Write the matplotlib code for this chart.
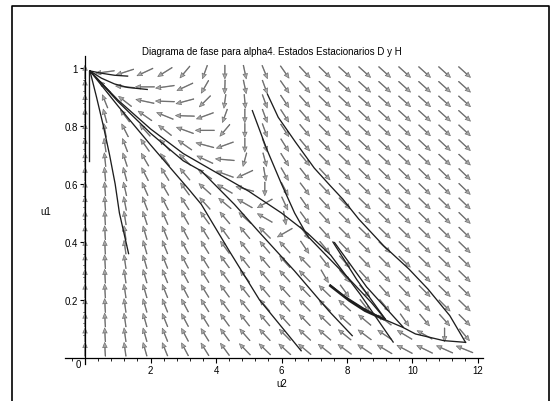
import numpy as np
import matplotlib
matplotlib.use("Agg")
import matplotlib.pyplot as plt
from matplotlib.lines import Line2D

plt.rcParams['font.family'] = ['Liberation Sans', 'DejaVu Sans']

TITLE = "Diagrama de fase para alpha4. Estados Estacionarios D y H"
X_LABEL = "u2"
Y_LABEL = "u1"

# ---- direction field: grid of arrow centres and their on-screen headings (deg) ----
u2_cols = [0.0, 0.61, 1.22, 1.83, 2.44, 3.05, 3.66, 4.27, 4.88, 5.49,
           6.10, 6.71, 7.32, 7.93, 8.54, 9.15, 9.76, 10.37, 10.98, 11.59]
u1_rows = [0.030, 0.080, 0.131, 0.181, 0.231, 0.282, 0.332, 0.382, 0.432, 0.483,
           0.533, 0.583, 0.634, 0.684, 0.734, 0.785, 0.835, 0.885, 0.935, 0.986]

# one list per row, bottom row first; one heading per column
field_heading = [
    [90, 93, 98, 106, 112, 118, 122, 126, 134, 136, 138, 140, 142, 144, 146, 149, 152, 154, 156, 158],
    [90, 93, 98, 106, 112, 118, 122, 126, 131, 133, 135, 137, 139, 141, 143, 146, 149, 151, 270, 310],
    [90, 93, 98, 106, 112, 118, 122, 126, 128, 130, 132, 134, 136, 138, 140, 143, 305, 310, 312, 315],
    [90, 93, 98, 106, 112, 118, 122, 126, 128, 130, 132, 134, 136, 138, 308, 310, 312, 314, 315, 316],
    [90, 93, 98, 106, 112, 118, 122, 126, 128, 130, 132, 134, 136, 306, 310, 312, 314, 315, 316, 316],
    [90, 93, 98, 106, 112, 118, 122, 126, 128, 130, 132, 134, 300, 310, 312, 314, 315, 316, 316, 316],
    [90, 93, 98, 106, 112, 118, 122, 126, 128, 130, 132, 134, 308, 312, 314, 315, 316, 316, 316, 316],
    [90, 93, 98, 106, 112, 118, 122, 126, 128, 130, 132, 304, 310, 314, 315, 316, 316, 316, 316, 316],
    [90, 93, 98, 106, 112, 118, 122, 126, 130, 135, 210, 306, 312, 315, 316, 316, 316, 316, 316, 316],
    [90, 93, 99, 108, 114, 120, 126, 130, 138, 150, 280, 306, 312, 315, 316, 316, 316, 316, 316, 316],
    [90, 94, 101, 111, 117, 123, 132, 140, 150, 210, 295, 305, 312, 315, 316, 316, 316, 316, 316, 316],
    [90, 94, 103, 114, 120, 126, 138, 150, 165, 270, 298, 307, 313, 315, 316, 316, 316, 316, 316, 316],
    [90, 95, 105, 117, 122, 130, 145, 160, 205, 280, 300, 308, 313, 315, 316, 316, 316, 316, 316, 316],
    [90, 96, 108, 120, 126, 135, 155, 175, 255, 285, 302, 309, 314, 316, 316, 317, 317, 317, 317, 317],
    [90, 98, 111, 125, 132, 145, 165, 200, 270, 290, 302, 310, 314, 316, 317, 317, 317, 317, 317, 317],
    [90, 100, 117, 132, 142, 160, 180, 230, 270, 290, 303, 310, 315, 316, 317, 317, 317, 317, 317, 317],
    [90, 105, 127, 145, 158, 178, 200, 250, 270, 290, 303, 311, 315, 317, 317, 318, 318, 318, 318, 318],
    [90, 112, 142, 168, 178, 195, 225, 262, 275, 290, 304, 312, 316, 317, 318, 318, 318, 318, 318, 318],
    [90, 135, 175, 180, 188, 205, 240, 268, 282, 290, 305, 312, 316, 318, 318, 318, 318, 318, 318, 318],
    [90, 188, 198, 205, 212, 230, 250, 270, 282, 292, 305, 313, 316, 318, 318, 318, 318, 318, 318, 318],
]

# ---- solution curves (u2, u1) ----
curve_t1_u2 = [0.13, 0.13]
curve_t1_u1 = [0.99, 0.68]
curve_t2_u2 = [0.15, 0.35, 0.56, 0.75, 0.92, 1.05, 1.15, 1.25, 1.33]
curve_t2_u1 = [0.99, 0.90, 0.80, 0.70, 0.60, 0.50, 0.45, 0.40, 0.36]
curve_t3_u2 = [0.15, 0.5, 0.9, 1.3]
curve_t3_u1 = [0.99, 0.982, 0.975, 0.972]
curve_t4_u2 = [0.15, 0.5, 0.9, 1.3, 1.9]
curve_t4_u1 = [0.99, 0.965, 0.945, 0.933, 0.926]
curve_a_u2 = [0.15, 1.0, 2.0, 3.16, 3.55, 4.4, 5.33, 6.6]
curve_a_u1 = [0.99, 0.87, 0.735, 0.583, 0.53, 0.37, 0.2, 0.025]
curve_b_u2 = [0.15, 1.0, 2.0, 3.0, 3.55, 4.56, 5.27, 6.4, 7.44, 8.16]
curve_b_u1 = [0.99, 0.885, 0.775, 0.68, 0.645, 0.53, 0.44, 0.3, 0.163, 0.077]
curve_c_u2 = [0.15, 1.0, 2.0, 3.0, 4.0, 5.0, 6.0, 6.8, 7.5, 8.4, 9.41]
curve_c_u1 = [0.99, 0.89, 0.79, 0.705, 0.64, 0.575, 0.50, 0.43, 0.355, 0.22, 0.055]
curve_d_u2 = [5.11, 5.55, 6.0, 6.4, 6.8, 7.4, 8.07, 8.74, 9.17]
curve_d_u1 = [0.853, 0.72, 0.60, 0.50, 0.42, 0.35, 0.272, 0.192, 0.134]
curve_v1_u2 = [7.57, 8.3, 9.17]
curve_v1_u1 = [0.40, 0.27, 0.134]
curve_v2_u2 = [7.62, 8.6, 9.72]
curve_v2_u1 = [0.398, 0.245, 0.106]
curve_e_u2 = [5.57, 5.9, 6.43, 7.0, 7.49, 7.87, 8.36, 9.12, 9.89, 10.47, 11.14, 11.62]
curve_e_u1 = [0.91, 0.83, 0.744, 0.655, 0.594, 0.548, 0.479, 0.387, 0.307, 0.238, 0.146, 0.054]
curve_g_u2 = [11.62, 10.95, 10.09, 9.70, 9.12, 8.5, 7.9, 7.49]
curve_g_u1 = [0.054, 0.06, 0.083, 0.106, 0.134, 0.172, 0.215, 0.252]
curve_h_u2 = [7.49, 8.07, 8.55, 9.12]
curve_h_u1 = [0.249, 0.198, 0.163, 0.134]

X_VIEW = (-0.6, 12.15)
Y_VIEW = (-0.02, 1.04)

fig = plt.figure(figsize=(5.56, 4.02), dpi=100)
ax = fig.add_axes([0.1176, 0.0925, 0.7509, 0.7647])
ax.set_xlim(*X_VIEW)
ax.set_ylim(*Y_VIEW)

# arrows are normalised per grid cell, like a classic direction-field plot
bbox = ax.get_window_extent()
px_per_x = bbox.width / (X_VIEW[1] - X_VIEW[0])
px_per_y = bbox.height / (Y_VIEW[1] - Y_VIEW[0])
step_x = u2_cols[1] - u2_cols[0]
step_y = u1_rows[1] - u1_rows[0]
hx = step_x * px_per_x
hy = step_y * px_per_y

X, Y = np.meshgrid(u2_cols, u1_rows)
ang = np.radians(np.array(field_heading, dtype=float))
a = np.cos(ang) / hx
b = np.sin(ang) / hy
n = np.hypot(a, b)
L = 0.95
U = L * (a / n) * step_x
V = L * (b / n) * step_y

ax.quiver(X, Y, U, V, angles='xy', scale_units='xy', scale=1, pivot='middle',
          units='dots', width=0.7, headwidth=6.5, headlength=7.5, headaxislength=6.8,
          facecolor='#a8a8a8', edgecolor='#6a6a6a', linewidth=0.45, zorder=2)

line_kw = dict(color='#1e1e1e', lw=0.95, zorder=3, solid_joinstyle='round')
for xs, ys in [(curve_t1_u2, curve_t1_u1), (curve_t2_u2, curve_t2_u1),
               (curve_t3_u2, curve_t3_u1), (curve_t4_u2, curve_t4_u1),
               (curve_a_u2, curve_a_u1), (curve_b_u2, curve_b_u1),
               (curve_c_u2, curve_c_u1), (curve_d_u2, curve_d_u1),
               (curve_v1_u2, curve_v1_u1), (curve_v2_u2, curve_v2_u1),
               (curve_e_u2, curve_e_u1), (curve_g_u2, curve_g_u1)]:
    ax.plot(xs, ys, **line_kw)
ax.plot(curve_h_u2, curve_h_u1, color='#1e1e1e', lw=1.8, zorder=3)

# axes crossing at the origin
for side in ('top', 'right'):
    ax.spines[side].set_visible(False)
ax.spines['left'].set_position(('data', 0))
ax.spines['bottom'].set_position(('data', 0))
for side in ('left', 'bottom'):
    ax.spines[side].set_linewidth(0.9)
    ax.spines[side].set_color('black')

ax.set_xticks([2, 4, 6, 8, 10, 12])
ax.set_xticklabels(['2', '4', '6', '8', '10', '12'])
ax.set_xticks([k * 0.4 for k in range(-1, 31) if k % 5 != 0], minor=True)
ax.set_yticks([0.2, 0.4, 0.6, 0.8, 1.0])
ax.set_yticklabels(['0.2', '0.4', '0.6', '0.8', '1'])
ax.set_yticks([k * 0.04 for k in range(1, 26) if k % 5 != 0], minor=True)
ax.tick_params(which='major', direction='out', length=3.5, width=0.8,
               labelsize=7, pad=1.5, colors='black')
ax.tick_params(which='minor', direction='out', length=1.8, width=0.6)
ax.text(-0.22, -0.02, '0', ha='center', va='center', fontsize=7)

fig.text(272 / 556, 1 - 52 / 402, TITLE, ha='center', va='center', fontsize=7)
fig.text(46 / 556, 1 - 212 / 402, Y_LABEL, ha='center', va='center', fontsize=7)
fig.text(282 / 556, 1 - 384 / 402, X_LABEL, ha='center', va='center', fontsize=7)

# outer frame
fig.add_artist(Line2D([12 / 556, 12 / 556, 549 / 556, 549 / 556],
                      [0, 1 - 7 / 402, 1 - 7 / 402, 0],
                      transform=fig.transFigure, color='black', lw=1.2))

fig.savefig('out.png', dpi=100)
